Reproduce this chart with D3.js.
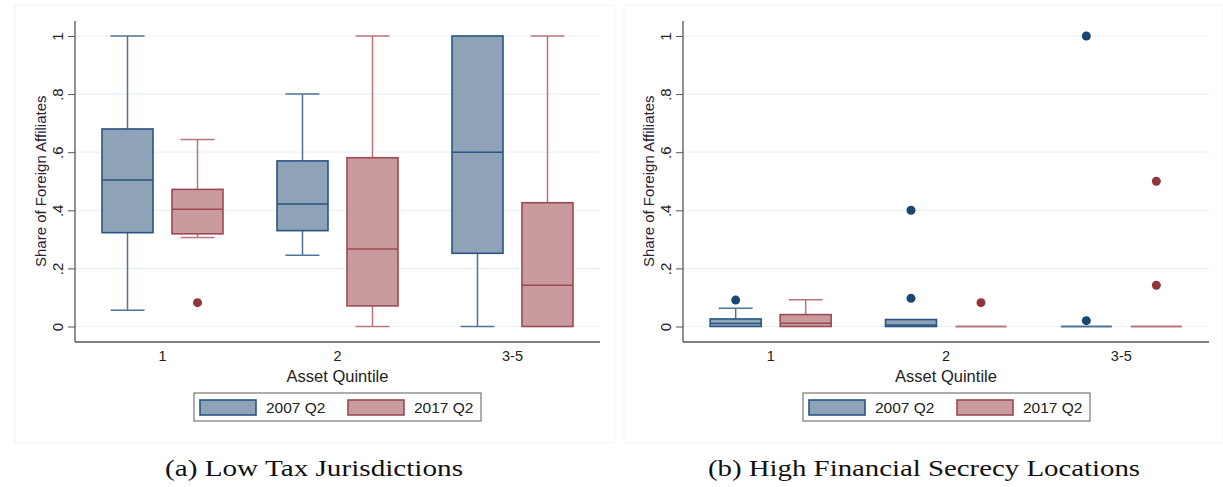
<!DOCTYPE html>
<html>
<head>
<meta charset="utf-8">
<script src="https://cdn.jsdelivr.net/npm/d3@7/dist/d3.min.js"></script>
<style>
  html, body { margin: 0; padding: 0; background: #fff; }
  svg { display: block; }
</style>
</head>
<body>
<svg id="chart" width="1223" height="487"></svg>
<script>
// Asset quintile groups and the two survey waves
const categories = ["1", "2", "3-5"];
const seriesNames = ["2007 Q2", "2017 Q2"];
const yTicks = [0, 0.2, 0.4, 0.6, 0.8, 1];
const yTickLabels = ["0", ".2", ".4", ".6", ".8", "1"];

// Box statistics per group: [lower whisker, Q1, median, Q3, upper whisker]
const lowTax2007 = [[0.056, 0.323, 0.504, 0.68, 1.0], [0.245, 0.33, 0.422, 0.57, 0.8], [0, 0.252, 0.6, 1.0, 1.0]];
const lowTax2017 = [[0.306, 0.319, 0.404, 0.472, 0.644], [0, 0.071, 0.267, 0.581, 1.0], [0, 0, 0.142, 0.426, 1.0]];
const lowTaxOut2007 = [[], [], []];
const lowTaxOut2017 = [[0.082], [], []];

const secrecy2007 = [[0, 0, 0.01, 0.026, 0.063], [0, 0, 0.005, 0.024, 0.024], [0, 0, 0, 0, 0]];
const secrecy2017 = [[0, 0, 0.011, 0.041, 0.092], [0, 0, 0, 0, 0], [0, 0, 0, 0, 0]];
const secrecyOut2007 = [[0.091], [0.4, 0.097], [1.0, 0.02]];
const secrecyOut2017 = [[], [0.082], [0.5, 0.142]];

const captions = ["(a) Low Tax Jurisdictions", "(b) High Financial Secrecy Locations"];

const styles = [
  { fill: "#8ea3b8", stroke: "#2a5580", whisker: "#4f7398", dot: "#1a476f" },
  { fill: "#c99a9e", stroke: "#9b4a52", whisker: "#bd747b", dot: "#90353b" }
];

const svg = d3.select("#chart");
const font = "'Liberation Sans', Arial, sans-serif";

const panels = [
  { frame: [15, 5, 600, 438], x0: 75, x1: 600, boxes: [lowTax2007, lowTax2017], outs: [lowTaxOut2007, lowTaxOut2017],
    legend: [194, 393], caption: captions[0], capX: 314, capW: 298 },
  { frame: [624, 5, 599, 438], x0: 683, x1: 1209, boxes: [secrecy2007, secrecy2017], outs: [secrecyOut2007, secrecyOut2017],
    legend: [803, 393], caption: captions[1], capX: 924, capW: 432 }
];

const y = d3.scaleLinear().domain([0, 1]).range([326.5, 36]);
const plotTop = 21, plotBottom = 342;

panels.forEach(p => {
  const g = svg.append("g");

  // panel frame
  g.append("rect")
    .attr("x", p.frame[0]).attr("y", p.frame[1])
    .attr("width", p.frame[2]).attr("height", p.frame[3])
    .attr("fill", "#fff").attr("stroke", "#f0f2f2").attr("stroke-width", 1);

  const x = d3.scaleBand().domain(categories).range([p.x0, p.x1]).padding(0);
  const sub = d3.scaleOrdinal().domain(seriesNames).range([-35, 35]);
  const boxW = 51, capW = 34;

  // gridlines
  g.append("g").selectAll("line").data(yTicks).join("line")
    .attr("x1", p.x0).attr("x2", p.x1)
    .attr("y1", d => y(d)).attr("y2", d => y(d))
    .attr("stroke", "#eaf2f3").attr("stroke-width", 1.2);

  // y axis
  const yAxis = g.append("g").attr("transform", `translate(${p.x0},0)`)
    .call(d3.axisLeft(y).tickValues(yTicks).tickFormat((d, i) => yTickLabels[i]).tickSize(7).tickPadding(4));
  yAxis.select(".domain").remove();
  yAxis.selectAll(".tick line").attr("stroke", "#555").attr("stroke-width", 1);
  yAxis.selectAll(".tick text")
    .attr("font-family", font).attr("font-size", 15).attr("fill", "#222")
    .attr("transform", "rotate(-90)")
    .attr("x", 0).attr("y", -12).attr("dy", "0").attr("text-anchor", "middle");
  g.append("line").attr("x1", p.x0).attr("x2", p.x0).attr("y1", plotTop).attr("y2", plotBottom)
    .attr("stroke", "#555").attr("stroke-width", 1.3);

  // x axis
  const xAxis = g.append("g").attr("transform", `translate(0,${plotBottom})`)
    .call(d3.axisBottom(x).tickSize(0).tickPadding(9));
  xAxis.select(".domain").remove();
  xAxis.selectAll(".tick text").attr("font-family", font).attr("font-size", 14.5).attr("fill", "#222");
  g.append("line").attr("x1", p.x0).attr("x2", p.x1).attr("y1", plotBottom).attr("y2", plotBottom)
    .attr("stroke", "#555").attr("stroke-width", 1.3);

  // axis titles
  g.append("text").attr("transform", `translate(${p.x0 - 29},${(y(0) + y(1)) / 2}) rotate(-90)`)
    .attr("text-anchor", "middle").attr("font-family", font).attr("font-size", 15).attr("fill", "#2a2233")
    .text("Share of Foreign Affiliates");
  g.append("text").attr("x", (p.x0 + p.x1) / 2).attr("y", 382)
    .attr("text-anchor", "middle").attr("font-family", font).attr("font-size", 16.5).attr("fill", "#222")
    .text("Asset Quintile");

  // boxes
  seriesNames.forEach((s, si) => {
    const st = styles[si];
    categories.forEach((c, ci) => {
      const [lo, q1, med, q3, hi] = p.boxes[si][ci];
      const cx = x(c) + x.bandwidth() / 2 + sub(s);
      const bg = g.append("g");
      // whiskers
      if (hi > q3) {
        bg.append("line").attr("x1", cx).attr("x2", cx).attr("y1", y(q3)).attr("y2", y(hi))
          .attr("stroke", st.whisker).attr("stroke-width", 1.5);
        bg.append("line").attr("x1", cx - capW / 2).attr("x2", cx + capW / 2).attr("y1", y(hi)).attr("y2", y(hi))
          .attr("stroke", st.whisker).attr("stroke-width", 1.5);
      }
      if (lo < q1) {
        bg.append("line").attr("x1", cx).attr("x2", cx).attr("y1", y(q1)).attr("y2", y(lo))
          .attr("stroke", st.whisker).attr("stroke-width", 1.5);
        bg.append("line").attr("x1", cx - capW / 2).attr("x2", cx + capW / 2).attr("y1", y(lo)).attr("y2", y(lo))
          .attr("stroke", st.whisker).attr("stroke-width", 1.5);
      }
      if (q3 > q1) {
        bg.append("rect").attr("x", cx - boxW / 2).attr("width", boxW)
          .attr("y", y(q3)).attr("height", y(q1) - y(q3))
          .attr("fill", st.fill).attr("stroke", st.stroke).attr("stroke-width", 1.6);
        bg.append("line").attr("x1", cx - boxW / 2).attr("x2", cx + boxW / 2).attr("y1", y(med)).attr("y2", y(med))
          .attr("stroke", st.stroke).attr("stroke-width", 1.5);
      } else {
        bg.append("line").attr("x1", cx - boxW / 2).attr("x2", cx + boxW / 2).attr("y1", y(q1)).attr("y2", y(q1))
          .attr("stroke", st.whisker).attr("stroke-width", 2);
      }
      // outside values
      bg.selectAll("circle").data(p.outs[si][ci]).join("circle")
        .attr("cx", cx).attr("cy", d => y(d)).attr("r", 4.5).attr("fill", st.dot);
    });
  });

  // legend
  const [lx, ly] = p.legend;
  const lg = g.append("g");
  lg.append("rect").attr("x", lx).attr("y", ly).attr("width", 287).attr("height", 28)
    .attr("fill", "#fff").attr("stroke", "#777").attr("stroke-width", 1.2);
  seriesNames.forEach((s, si) => {
    const ox = lx + 6 + si * 148;
    lg.append("rect").attr("x", ox).attr("y", ly + 7).attr("width", 56).attr("height", 15)
      .attr("fill", styles[si].fill).attr("stroke", styles[si].stroke).attr("stroke-width", 1.6);
    lg.append("text").attr("x", ox + 66).attr("y", ly + 20)
      .attr("font-family", font).attr("font-size", 15.5).attr("fill", "#222").text(s);
  });

  // caption
  g.append("text").attr("x", p.capX).attr("y", 476).attr("text-anchor", "middle")
    .attr("font-family", "'Liberation Serif', 'Times New Roman', serif").attr("font-size", 23).attr("fill", "#111")
    .attr("textLength", p.capW).attr("lengthAdjust", "spacingAndGlyphs")
    .text(p.caption);
});
</script>
</body>
</html>
